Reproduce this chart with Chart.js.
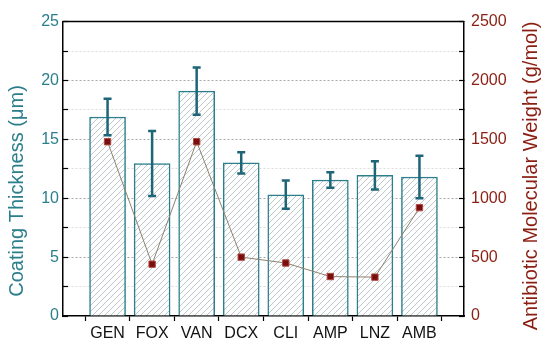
<!DOCTYPE html>
<html>
<head>
<meta charset="utf-8">
<script src="https://cdn.jsdelivr.net/npm/chart.js@4"></script>
<style>
  html, body { margin: 0; padding: 0; background: #fff; }
  #chart { display: block; }
</style>
</head>
<body>
<canvas id="chart" width="550" height="351"></canvas>
<script>
/* データ */
const categories = ["GEN", "FOX", "VAN", "DCX", "CLI", "AMP", "LNZ", "AMB"];
const thickness = [16.9, 12.95, 19.1, 13.0, 10.3, 11.55, 11.95, 11.8];
const thicknessErr = [1.55, 2.75, 2.0, 0.9, 1.2, 0.65, 1.2, 1.8];
const molWeight = [1480, 440, 1480, 500, 450, 335, 330, 920];
const leftTicks = [0, 5, 10, 15, 20, 25];
const rightTicks = [0, 500, 1000, 1500, 2000, 2500];

const leftTitle = "Coating Thickness (\u03bcm)";
const rightTitle = "Antibiotic Molecular Weight (g/mol)";

const TEAL = "#2b7f8c";
const DARK_TEAL = "#1d6577";
const RED = "#8b1e12";
const FONT = "'Liberation Sans', Arial, sans-serif";


/* 斜線パターン */
function makeHatch() {
  const c = document.createElement("canvas");
  c.width = 6;
  c.height = 6;
  const g = c.getContext("2d");
  g.fillStyle = "#ffffff";
  g.fillRect(0, 0, 6, 6);
  g.strokeStyle = "#9fb0b4";
  g.lineWidth = 0.7;
  g.beginPath();
  g.moveTo(-1, 7); g.lineTo(7, -1);
  g.moveTo(-4, 4); g.lineTo(4, -4);
  g.moveTo(2, 10); g.lineTo(10, 2);
  g.stroke();
  return g.createPattern(c, "repeat");
}


/* 端に空きを入れる */
const labels = ["", ...categories, ""];
const barData = [null, ...thickness, null];
const lineData = [null, ...molWeight, null];
const errData = [null, ...thicknessErr, null];


/* エラーバー・枠・軸タイトル */
const extras = {
  id: "extras",

  afterDatasetDraw(chart, args) {
    if (args.meta.type !== "bar") return;
    const ctx = chart.ctx;
    const x = chart.scales.x;
    const y = chart.scales.y;
    ctx.save();
    ctx.strokeStyle = DARK_TEAL;
    ctx.lineWidth = 2.5;
    barData.forEach((v, i) => {
      if (v === null) return;
      const px = x.getPixelForValue(i);
      const top = y.getPixelForValue(v + errData[i]);
      const bot = y.getPixelForValue(v - errData[i]);
      ctx.beginPath();
      ctx.moveTo(px, top); ctx.lineTo(px, bot);
      ctx.moveTo(px - 4, top); ctx.lineTo(px + 4, top);
      ctx.moveTo(px - 4, bot); ctx.lineTo(px + 4, bot);
      ctx.stroke();
    });
    ctx.restore();
  },

  afterDraw(chart) {
    const ctx = chart.ctx;
    const a = chart.chartArea;
    ctx.save();
    ctx.strokeStyle = "#000";
    ctx.lineWidth = 1.5;
    ctx.beginPath();
    ctx.moveTo(a.left, a.top);
    ctx.lineTo(a.right, a.top);
    ctx.stroke();

    ctx.font = "20px " + FONT;
    ctx.textAlign = "center";
    ctx.textBaseline = "middle";

    ctx.save();
    ctx.translate(17, 191);
    ctx.rotate(-Math.PI / 2);
    ctx.fillStyle = TEAL;
    ctx.fillText(leftTitle, 0, 0);
    ctx.restore();

    ctx.save();
    ctx.translate(531, 176);
    ctx.rotate(-Math.PI / 2);
    ctx.fillStyle = RED;
    ctx.fillText(rightTitle, 0, 0);
    ctx.restore();

    ctx.restore();
  }
};


/* グラフ */
new Chart(document.getElementById("chart"), {

  type: "bar",

  data: {
    labels,
    datasets: [
      {
        type: "line",
        data: lineData,
        yAxisID: "y1",
        order: 0,
        borderColor: "#8d8270",
        borderWidth: 1,
        pointStyle: "rect",
        pointRadius: 4.5,
        pointBackgroundColor: "#7a0e0e",
        pointBorderColor: "#b04a40",
        pointBorderWidth: 1,
        tension: 0
      },
      {
        type: "bar",
        data: barData,
        yAxisID: "y",
        order: 1,
        backgroundColor: makeHatch(),
        borderColor: TEAL,
        borderWidth: 1.5,
        barThickness: 36
      }
    ]
  },

  options: {
    responsive: false,
    animation: false,
    devicePixelRatio: 1,
    layout: { padding: { top: 17 } },
    plugins: {
      legend: { display: false },
      tooltip: { enabled: false }
    },
    scales: {
      x: {
        type: "category",
        offset: false,
        afterFit: s => { s.height = 35; },
        grid: { drawOnChartArea: false, tickLength: 5, tickColor: "#000", tickWidth: 1.2 },
        border: { color: "#000", width: 1.5 },
        ticks: { color: "#111", font: { family: FONT, size: 16 }, padding: 3, autoSkip: false, maxRotation: 0 }
      },
      y: {
        position: "left",
        min: 0,
        max: 25,
        afterFit: s => { s.width = 63; },
        afterBuildTicks: s => {
          const t = [];
          for (let v = 0; v <= 25; v += 2.5) t.push({ value: v });
          s.ticks = t;
        },
        grid: {
          color: c => {
            const v = c.tick.value;
            if (v === 0 || v === 25) return "rgba(0,0,0,0)";
            return leftTicks.includes(v) ? "#a8a8a8" : "#dcdcdc";
          },
          tickLength: -5,
          tickColor: "#000",
          tickWidth: 1.2
        },
        border: { color: "#000", width: 1.5, dash: [2, 2] },
        ticks: {
          color: TEAL,
          font: { family: FONT, size: 16 },
          padding: 9,
          autoSkip: false,
          callback: v => leftTicks.includes(v) ? String(v) : ""
        }
      },
      y1: {
        position: "right",
        min: 0,
        max: 2500,
        afterFit: s => { s.width = 86; },
        afterBuildTicks: s => {
          const t = [];
          for (let v = 0; v <= 2500; v += 250) t.push({ value: v });
          s.ticks = t;
        },
        grid: { drawOnChartArea: false, tickLength: -5, tickColor: "#000", tickWidth: 1.2 },
        border: { color: "#000", width: 1.5 },
        ticks: {
          color: RED,
          font: { family: FONT, size: 16 },
          padding: 12,
          autoSkip: false,
          callback: v => rightTicks.includes(v) ? String(v) : ""
        }
      }
    }
  },

  plugins: [extras]
});
</script>
</body>
</html>
